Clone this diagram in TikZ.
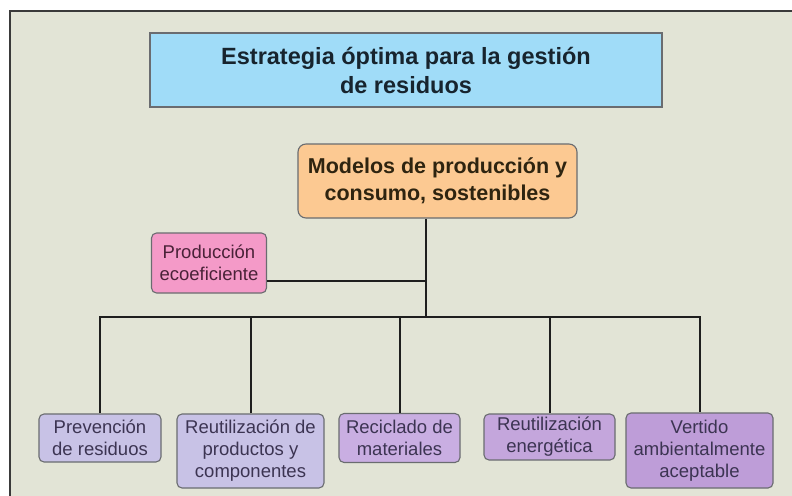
\documentclass[tikz,border=0pt]{standalone}
\usepackage{fontspec}
\setmainfont{Liberation Sans}
\definecolor{panelbg}{HTML}{E2E4D6}
\definecolor{framecol}{HTML}{3A3A3A}
\definecolor{boxline}{HTML}{6A6C70}
\definecolor{linkcol}{HTML}{1E1E1E}
\definecolor{titlefill}{HTML}{A0DCF8}
\definecolor{titletext}{HTML}{17242E}
\definecolor{modfill}{HTML}{FCC992}
\definecolor{modtext}{HTML}{2E2410}
\definecolor{ecofill}{HTML}{F49AC8}
\definecolor{ecotext}{HTML}{4A2238}
\definecolor{lavA}{HTML}{C8C2E6}
\definecolor{lavB}{HTML}{C9AEE2}
\definecolor{lavC}{HTML}{C4A6DC}
\definecolor{lavD}{HTML}{BE9DD8}
\definecolor{leaftext}{HTML}{3C3452}
\begin{document}
\begin{tikzpicture}[x=1pt, y=1pt,
    box/.style={draw=boxline, line width=1.1pt, align=center, inner sep=0pt},
    leaf/.style={box, rounded corners=5pt, text=leaftext,
      font=\fontsize{18.5}{22}\selectfont},
    link/.style={draw=linkcol, line width=2pt}]
  \useasboundingbox (0,0) rectangle (792,-495);
  \fill[white] (0,0) rectangle (792,-495);
  \filldraw[fill=panelbg, draw=framecol, line width=1.2pt] (10,-11) rectangle (800,-505);

  % cabecera y nodo central
  \node[box, fill=titlefill, text=titletext, minimum width=512, minimum height=74,
    font=\bfseries\fontsize{23.5}{29}\selectfont] (titulo) at (406,-70)
    {Estrategia óptima para la gestión\\de residuos};
  \node[box, rounded corners=8pt, fill=modfill, text=modtext, minimum width=279,
    minimum height=74, font=\bfseries\fontsize{21.5}{27}\selectfont] (modelos) at (437.5,-181)
    {Modelos de producción y\\consumo, sostenibles};
  \node[box, rounded corners=5pt, fill=ecofill, text=ecotext, minimum width=115,
    minimum height=60, font=\fontsize{18.5}{22}\selectfont] (eco) at (209,-263)
    {Producción\\ecoeficiente};

  % hojas
  \node[leaf, fill=lavA, minimum width=122, minimum height=48] (prev) at (100,-438)
    {Prevención\\de residuos};
  \node[leaf, fill=lavA, minimum width=147, minimum height=74] (reut) at (250.5,-451)
    {Reutilización de\\productos y\\componentes};
  \node[leaf, fill=lavB, minimum width=121, minimum height=49] (recic) at (399.5,-438)
    {Reciclado de\\materiales};
  \node[leaf, fill=lavC, minimum width=131, minimum height=46] (energ) at (549.5,-437)
    {Reutilización\\energética};
  \node[leaf, fill=lavD, minimum width=147, minimum height=75] (vert) at (699.5,-450.5)
    {Vertido\\ambientalmente\\aceptable};

  % conexiones
  \coordinate (hub) at (426,-317);
  \coordinate (ecojoin) at (426,-281);
  \draw[link] (modelos.south -| hub) -- (hub);
  \draw[link] ([yshift=-18pt]eco.east) -- (ecojoin);
  \draw[link] (prev.north) |- (hub) -| (vert.north);
  \foreach \n in {reut,recic,energ}
    \draw[link] (\n.north) -- (\n.north |- hub);
\end{tikzpicture}
\end{document}
